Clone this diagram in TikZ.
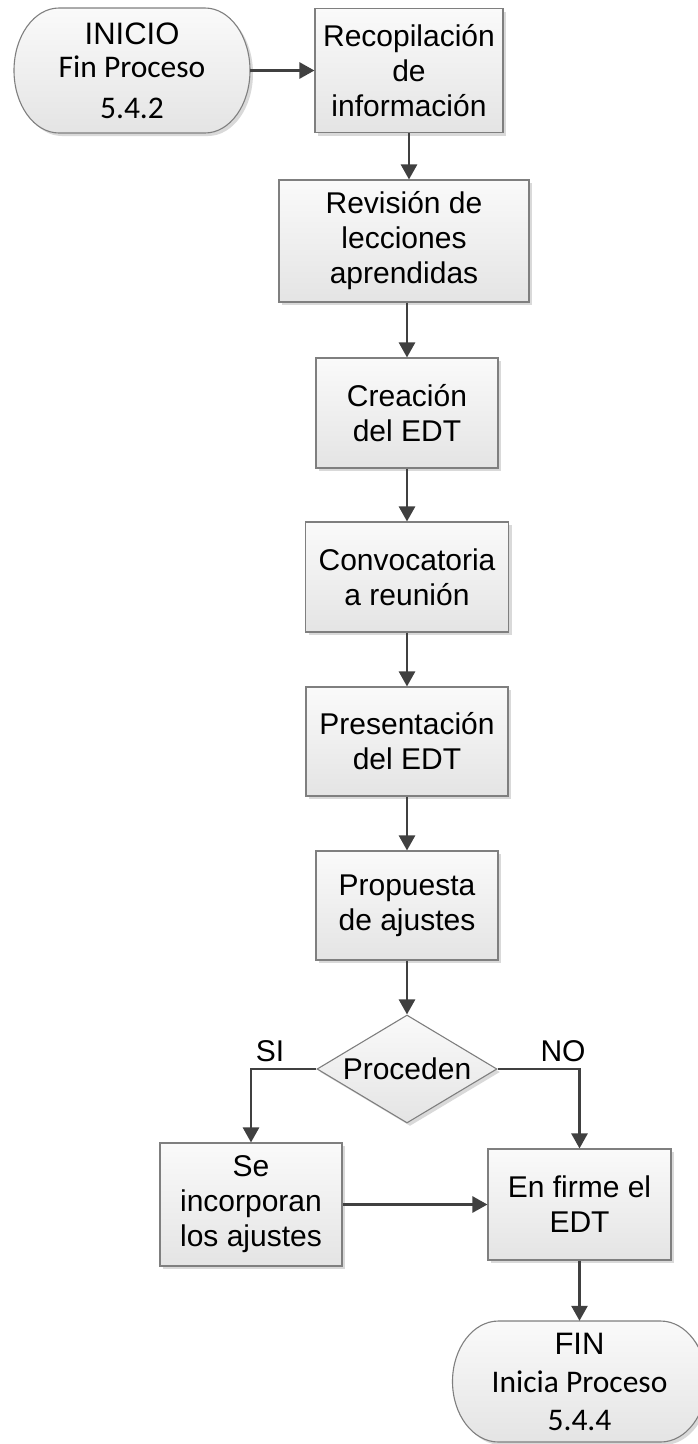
\documentclass[tikz,border=0pt]{standalone}
\usepackage{fontspec}
\setmainfont{Liberation Sans}
\newfontfamily\termfont{Carlito}
\usetikzlibrary{shapes.geometric,arrows.meta,shadows}

\definecolor{linegray}{HTML}{404040}
\definecolor{edgegray}{HTML}{7F7F7F}
\definecolor{filltop}{HTML}{FAFAFA}
\definecolor{fillbot}{HTML}{E4E4E4}

\tikzset{
  boxlook/.style={draw=edgegray, line width=1.1pt, top color=filltop, bottom color=fillbot,
    drop shadow={shadow xshift=3pt, shadow yshift=-3pt, fill=black, opacity=0.15}},
  base/.style={boxlook, align=center, inner sep=0pt, font=\fontsize{30}{35}\selectfont},
  process/.style={base, rectangle},
  termshape/.style={boxlook},
  termtext/.style={rectangle, align=center, inner sep=0pt, font=\termfont\fontsize{31.5}{37}\selectfont},
  decision/.style={base, diamond, aspect=1.67},
  conn/.style={draw=linegray, line width=2.6pt, -{Triangle[length=15pt,width=16pt]}},
  lbl/.style={font=\fontsize{30}{35}\selectfont, inner sep=0pt}
}
\newcommand\headline[1]{{\fontspec{Liberation Sans}\fontsize{31}{37}\selectfont #1}}

\begin{document}
\begin{tikzpicture}[x=1pt, y=-1pt]
  \useasboundingbox (0,0) rectangle (697,1444);

  % terminal outlines: straight top and bottom, elliptic ends
  \path[termshape] (59,8) -- (205,8)
    arc[start angle=90, end angle=-90, x radius=45pt, y radius=62.5pt]
    -- (59,133)
    arc[start angle=270, end angle=90, x radius=45pt, y radius=62.5pt] -- cycle;
  \path[termshape] (498.5,1321) -- (660.5,1321)
    arc[start angle=90, end angle=-90, x radius=46pt, y radius=60.5pt]
    -- (498.5,1442)
    arc[start angle=270, end angle=90, x radius=46pt, y radius=60.5pt] -- cycle;

  % terminal texts
  \node[termtext, minimum width=236pt, minimum height=125pt] (ini) at (132,70.5)
    {\headline{INICIO}\\[-4pt]Fin Proceso\\[4pt]5.4.2};
  \node[termtext, minimum width=254pt, minimum height=121pt] (fin) at (579.5,1381.5)
    {\headline{FIN}\\[1pt]Inicia Proceso\\[1pt]5.4.4};

  % process steps
  \node[process, minimum width=188pt, minimum height=124pt] (rec) at (409,70.5)
    {Recopilación\\de\\información};
  \node[process, minimum width=250pt, minimum height=122pt] (rev) at (404,241)
    {Revisión de\\lecciones\\aprendidas};
  \node[process, minimum width=182pt, minimum height=110pt] (cre) at (407,413)
    {Creación\\del EDT};
  \node[process, minimum width=203pt, minimum height=110pt] (con) at (407,577)
    {Convocatoria\\a reunión};
  \node[process, minimum width=202pt, minimum height=109pt] (pre) at (407,741.5)
    {Presentación\\del EDT};
  \node[process, minimum width=182pt, minimum height=109pt] (pro) at (407,905.5)
    {Propuesta\\de ajustes};

  % decision
  \node[decision, minimum width=180pt, minimum height=108pt] (dia) at (407,1069)
    {Proceden};
  \node[lbl] (si) at (270,1051) {SI};
  \node[lbl] (no) at (563,1051) {NO};

  \node[process, minimum width=182pt, minimum height=123pt] (se) at (251,1204.5)
    {Se\\incorporan\\los ajustes};
  \node[process, minimum width=183pt, minimum height=111pt] (enf) at (579.5,1204.5)
    {En firme el\\EDT};

  % connectors
  \draw[conn] (ini.east) -- (rec.west);
  \draw[conn] (rec.south) -- (rec.south |- rev.north);
  \draw[conn] (cre.north |- rev.south) -- (cre.north);
  \draw[conn] (cre.south) -- (con.north);
  \draw[conn] (con.south) -- (pre.north);
  \draw[conn] (pre.south) -- (pro.north);
  \draw[conn] (pro.south) -- (dia.north);
  \draw[conn] (dia.west) -| (se.north);
  \draw[conn] (dia.east) -| (enf.north);
  \draw[conn] (se.east) -- (se.east -| enf.west);
  \draw[conn] (enf.south) -- (fin.north);
\end{tikzpicture}
\end{document}
